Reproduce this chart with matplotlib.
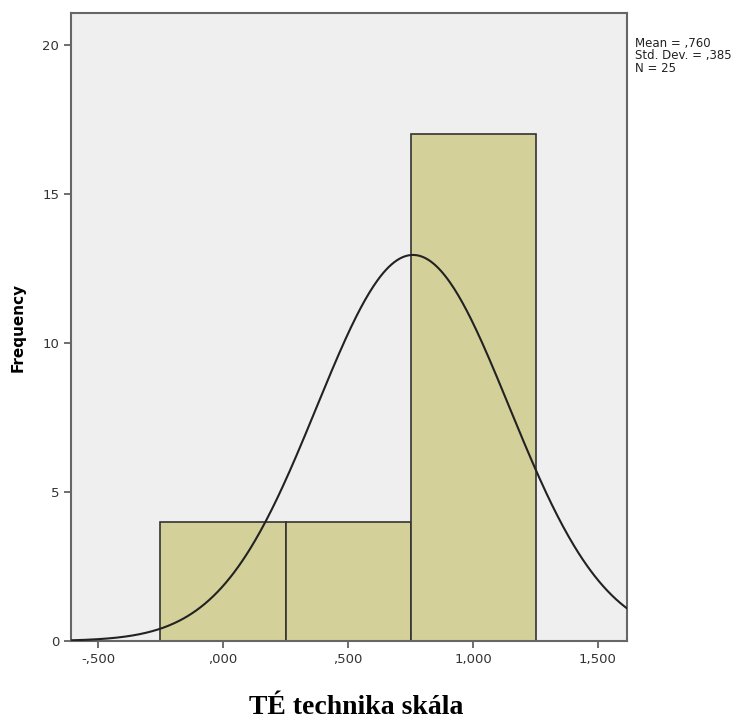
import numpy as np
import matplotlib
matplotlib.use("Agg")
import matplotlib.pyplot as plt
from matplotlib.ticker import FuncFormatter

# Histogram values read from the SPSS output
bin_edges = [-0.25, 0.25, 0.75, 1.25]
counts = [4, 4, 17]
mean = 0.760
std_dev = 0.385
n = 25

x_ticks = [-0.5, 0.0, 0.5, 1.0, 1.5]
y_ticks = [0, 5, 10, 15, 20]


def comma_fmt(v, _pos):
    s = f"{v:.3f}".replace(".", ",")
    if s.startswith("0,"):
        s = s[1:]
    elif s.startswith("-0,"):
        s = "-" + s[2:]
    return s


fig = plt.figure(figsize=(7.5, 7.28), dpi=100)
ax = fig.add_axes([71 / 750, 1 - 641 / 728, (627 - 71) / 750, (641 - 13) / 728])
ax.set_facecolor("#efefef")

widths = np.diff(bin_edges)
ax.bar(bin_edges[:-1], counts, width=widths, align="edge",
       color="#d4d09a", edgecolor="#333333", linewidth=1.2, zorder=2)

# fitted normal curve, scaled to counts
bw = widths[0]
xs = np.linspace(-0.608, 1.616, 400)
ys = n * bw * np.exp(-0.5 * ((xs - mean) / std_dev) ** 2) / (std_dev * np.sqrt(2 * np.pi))
ax.plot(xs, ys, color="#222222", linewidth=1.5, zorder=3)

ax.set_xlim(-0.608, 1.616)
ax.set_ylim(0, 21.07)
ax.set_xticks(x_ticks)
ax.set_yticks(y_ticks)
ax.xaxis.set_major_formatter(FuncFormatter(comma_fmt))
ax.tick_params(axis="both", direction="out", length=5, width=1.2,
               color="#555555", labelsize=9.5, labelcolor="#333333")
for sp in ax.spines.values():
    sp.set_color("#666666")
    sp.set_linewidth(1.5)

ax.set_ylabel("Frequency", fontsize=11, fontweight="bold", labelpad=12)
fig.text(0.5 * (71 + 627) / 750 + 0.01, 1 - 707 / 728, "TÉ technika skála",
         ha="center", va="center", fontsize=20, fontweight="bold",
         family="Liberation Serif")

fig.text(635 / 750, 1 - 37 / 728,
         f"Mean = ,{int(round(mean * 1000)):03d}\nStd. Dev. = ,{int(round(std_dev * 1000)):03d}\nN = {n}",
         ha="left", va="top", fontsize=8.5, color="#222222", linespacing=0.95)

fig.savefig("out.png", dpi=100)
